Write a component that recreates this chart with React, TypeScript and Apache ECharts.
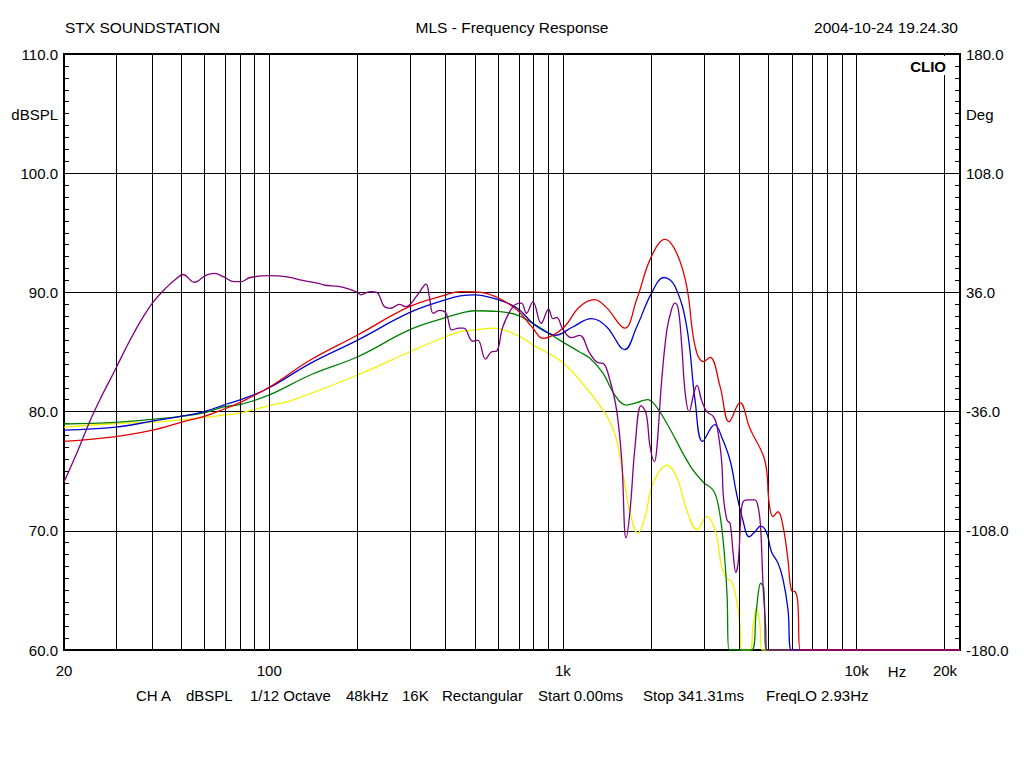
import React, { useEffect, useRef } from "react";
import * as echarts from "echarts";

// ---- data ----
const gridFreqs = [30, 40, 50, 60, 70, 80, 90, 100, 200, 300, 400, 500, 600, 700, 800, 900, 1000, 2000, 3000, 4000, 5000, 6000, 7000, 8000, 9000, 10000, 20000];
const freqLabelValues = [20, 100, 1000, 10000, 20000];
const freqMin = 20;
const freqMax = 22500;

const purpleF = [20, 22.1, 24.5, 26.5, 30, 32.3, 36.3, 40, 44.6, 48, 50.8, 55.6, 61, 65, 70, 76, 80, 86, 100, 115, 130, 147, 155, 172, 186, 200, 205, 220, 232, 247, 260, 277, 292, 320, 342, 351, 362, 380, 400, 419, 443, 460, 493, 513, 545, 570, 596, 624, 676, 722, 751, 790, 843, 894, 924, 952, 1000, 1068, 1140, 1234, 1318, 1371, 1445, 1524, 1586, 1640, 1693, 1760, 1846, 1920, 1980, 2050, 2090, 2170, 2260, 2350, 2410, 2475, 2540, 2610, 2690, 2790, 2860, 2970, 3090, 3250, 3340, 3470, 3520, 3620, 3710, 3800, 3880, 3960, 4030, 4100, 4270, 4500, 4620, 4710, 4800, 4900, 4950, 22500];
const purpleV = [74.1, 76.5, 79.2, 81.0, 83.6, 85.2, 87.5, 89.1, 90.4, 91.1, 91.5, 90.85, 91.45, 91.6, 91.3, 90.9, 90.9, 91.25, 91.4, 91.3, 91.0, 90.76, 90.6, 90.5, 90.3, 90.0, 89.8, 90.06, 90.0, 88.8, 88.67, 89.0, 88.8, 89.8, 90.7, 89.6, 88.25, 88.5, 88.25, 86.85, 87.0, 87.0, 85.9, 86.0, 84.4, 85.0, 85.1, 87.1, 88.8, 89.1, 88.25, 89.2, 87.4, 88.6, 87.8, 87.9, 86.9, 86.2, 86.4, 84.9, 84.1, 84.05, 82.65, 80.1, 75.9, 69.4, 71.7, 77.05, 80.5, 79.85, 77.05, 75.8, 77.05, 82.65, 86.85, 88.67, 89.1, 88.5, 85.45, 81.5, 80.0, 81.5, 82.2, 80.9, 80.0, 79.6, 78.9, 75.9, 72.86, 70.9, 70.6, 68.1, 66.5, 67.55, 70.9, 72.4, 72.6, 72.6, 72.0, 70.35, 65.6, 62.0, 60, 60];

const redF = [20, 30, 40, 50, 60, 70, 80, 100, 138, 200, 300, 400, 447, 500, 600, 700, 790, 855, 1000, 1140, 1282, 1410, 1623, 1783, 2000, 2230, 2440, 2640, 2820, 3010, 3170, 3430, 3680, 4010, 4330, 4870, 5040, 5190, 5400, 5620, 5840, 6000, 6200, 6310, 6430, 22500];
const redV = [77.5, 77.9, 78.45, 79.1, 79.6, 80.2, 80.8, 82.04, 84.33, 86.43, 88.8, 89.8, 90.06, 90.05, 89.55, 88.5, 87.0, 86.15, 87.0, 88.8, 89.4, 88.7, 87.0, 89.4, 93.0, 94.45, 93.3, 90.5, 85.45, 84.2, 84.55, 82.1, 79.15, 80.75, 78.6, 75.9, 72.3, 71.2, 71.6, 70.35, 67.55, 65.0, 64.85, 63.9, 60, 60];

const blueF = [20, 30, 40, 50, 60, 70, 80, 100, 138, 200, 300, 400, 447, 500, 600, 700, 790, 890, 940, 1080, 1250, 1410, 1623, 1783, 2000, 2210, 2410, 2640, 2820, 2990, 3290, 3470, 3710, 3900, 4100, 4300, 4500, 4710, 4930, 5130, 5400, 5620, 5840, 6000, 22500];
const blueV = [78.45, 78.7, 79.2, 79.6, 80.0, 80.55, 81.0, 82.0, 84.05, 86.0, 88.3, 89.4, 89.7, 89.8, 89.4, 88.67, 87.4, 86.6, 86.4, 87.1, 87.8, 87.1, 85.2, 87.1, 89.9, 91.25, 90.5, 87.1, 80.9, 77.5, 78.9, 77.9, 75.9, 73.15, 70.9, 69.5, 69.9, 70.4, 69.9, 68.25, 67.3, 65.9, 63.4, 60, 60];

const greenF = [20, 30, 40, 50, 60, 70, 80, 100, 138, 200, 300, 400, 447, 500, 600, 700, 790, 975, 1140, 1234, 1371, 1500, 1645, 1783, 1940, 2060, 2260, 2720, 3000, 3250, 3390, 3520, 3620, 3680, 4390, 4560, 4720, 4830, 4930, 22500];
const greenV = [78.96, 79.1, 79.35, 79.6, 79.9, 80.4, 80.6, 81.4, 83.07, 84.6, 86.85, 87.9, 88.25, 88.46, 88.4, 88.1, 87.4, 86.0, 85.0, 84.5, 83.2, 81.4, 80.55, 80.75, 81.0, 80.55, 79.0, 75.4, 74.1, 73.4, 72.0, 68.95, 64.75, 60, 60, 63.4, 65.6, 65.2, 60, 60];

const yellowF = [20, 30, 40, 50, 60, 70, 80, 100, 120, 200, 300, 400, 447, 500, 580, 700, 790, 975, 1140, 1371, 1500, 1600, 1693, 1800, 1905, 2030, 2260, 2440, 2640, 2860, 3090, 3320, 3470, 3620, 3760, 3900, 4010, 4060, 4330, 4440, 4560, 4680, 4770, 22500];
const yellowV = [78.7, 79.0, 79.1, 79.3, 79.5, 79.7, 79.9, 80.5, 80.97, 83.07, 85.0, 86.3, 86.7, 86.85, 87.0, 86.4, 85.6, 84.3, 82.65, 80.1, 78.2, 74.8, 71.5, 69.8, 71.2, 74.0, 75.5, 74.5, 71.75, 70.1, 71.2, 69.8, 67.0, 66.0, 65.7, 64.2, 62.0, 60, 60, 62.0, 63.5, 62.3, 60, 60];

const FONT = "'Liberation Sans', Arial, sans-serif";

function toData(fs: number[], vs: number[]) {
  return fs.map((f, i) => [Math.log10(f), vs[i]]);
}

function fmtFreq(v: number) {
  const f = Math.round(Math.pow(10, v));
  return f >= 1000 ? f / 1000 + "k" : String(f);
}

export default function App() {
  const ref = useRef<HTMLDivElement>(null);
  useEffect(() => {
    document.body.style.margin = "0";
    const chart = echarts.init(ref.current!, null, { renderer: "svg" });
    const curve = (name: string, color: string, fs: number[], vs: number[], z: number) => ({
      name,
      type: "line",
      data: toData(fs, vs),
      showSymbol: false,
      symbol: "none",
      smooth: 0.4,
      lineStyle: { color, width: 1.3 },
      z,
      silent: true,
    });
    const text = (t: string, x: number, y: number, align: string, extra: any = {}) => ({
      type: "text",
      x,
      y,
      z: 100,
      style: {
        text: t,
        fill: "#000",
        font: `15.5px ${FONT}`,
        textAlign: align,
        textVerticalAlign: "middle",
        ...extra,
      },
    });
    const bottomItems: [string, number][] = [
      ["CH A", 136],
      ["dBSPL", 186],
      ["1/12 Octave", 250],
      ["48kHz", 346],
      ["16K", 402],
      ["Rectangular", 442],
      ["Start 0.00ms", 538],
      ["Stop 341.31ms", 643],
      ["FreqLO 2.93Hz", 766],
    ];
    chart.setOption({
      animation: false,
      backgroundColor: "#fff",
      grid: { left: 64, right: 64, top: 54, bottom: 118, show: true, borderColor: "#000", borderWidth: 2, backgroundColor: "transparent" },
      xAxis: {
        type: "value",
        min: Math.log10(freqMin),
        max: Math.log10(freqMax),
        axisLine: { show: false },
        axisTick: { show: false },
        splitLine: { show: false },
        axisLabel: {
          customValues: freqLabelValues.map((f) => Math.log10(f)),
          formatter: (v: number) => fmtFreq(v),
          color: "#000",
          fontFamily: FONT,
          fontSize: 15,
          margin: 13,
        },
      },
      yAxis: [
        {
          type: "value",
          min: 60,
          max: 110,
          interval: 10,
          position: "left",
          axisLine: { show: false },
          axisTick: { show: true, inside: true, length: 5, lineStyle: { color: "#000" } },
          minorTick: { show: true, splitNumber: 10, length: 5, lineStyle: { color: "#000" } },
          splitLine: { show: true, lineStyle: { color: "#000", width: 1 } },
          axisLabel: { formatter: (v: number) => v.toFixed(1), color: "#000", fontFamily: FONT, fontSize: 15, margin: 6 },
        },
        {
          type: "value",
          min: -180,
          max: 180,
          interval: 72,
          position: "right",
          axisLine: { show: false },
          axisTick: { show: true, inside: true, length: 5, lineStyle: { color: "#000" } },
          minorTick: { show: true, splitNumber: 10, length: 5, lineStyle: { color: "#000" } },
          splitLine: { show: false },
          axisLabel: { formatter: (v: number) => v.toFixed(1), color: "#000", fontFamily: FONT, fontSize: 15, margin: 6 },
        },
      ],
      series: [
        {
          type: "line",
          data: [[Math.log10(freqMin), 60]],
          showSymbol: false,
          symbol: "none",
          lineStyle: { width: 0 },
          z: 1,
          silent: true,
          markLine: {
            silent: true,
            symbol: ["none", "none"],
            label: { show: false },
            emphasis: { disabled: true },
            lineStyle: { color: "#000", width: 1, type: "solid" },
            data: gridFreqs.map((f) => ({ xAxis: Math.log10(f) })),
          },
        },
        curve("yellow", "#f2f200", yellowF, yellowV, 2),
        curve("green", "#008000", greenF, greenV, 3),
        curve("blue", "#0000d0", blueF, blueV, 4),
        curve("red", "#e00000", redF, redV, 5),
        curve("purple", "#800080", purpleF, purpleV, 6),
      ],
      graphic: [
        text("STX SOUNDSTATION", 65, 27, "left"),
        text("MLS - Frequency Response", 512, 27, "center"),
        text("2004-10-24 19.24.30", 958, 27, "right"),
        text("dBSPL", 58, 114, "right", { font: `15px ${FONT}` }),
        text("Deg", 966, 114, "left", { font: `15px ${FONT}` }),
        text("Hz", 897, 671, "center", { font: `15px ${FONT}` }),
        { type: "rect", z: 99, shape: { x: 904, y: 56, width: 48, height: 19 }, style: { fill: "#fff" } },
        text("CLIO", 946, 66, "right", { font: `bold 15px ${FONT}` }),
        ...bottomItems.map(([t, x]) => text(t, x, 695, "left", { font: `15px ${FONT}` })),
      ],
    });
    return () => chart.dispose();
  }, []);
  return <div ref={ref} style={{ width: 1024, height: 768 }} />;
}
